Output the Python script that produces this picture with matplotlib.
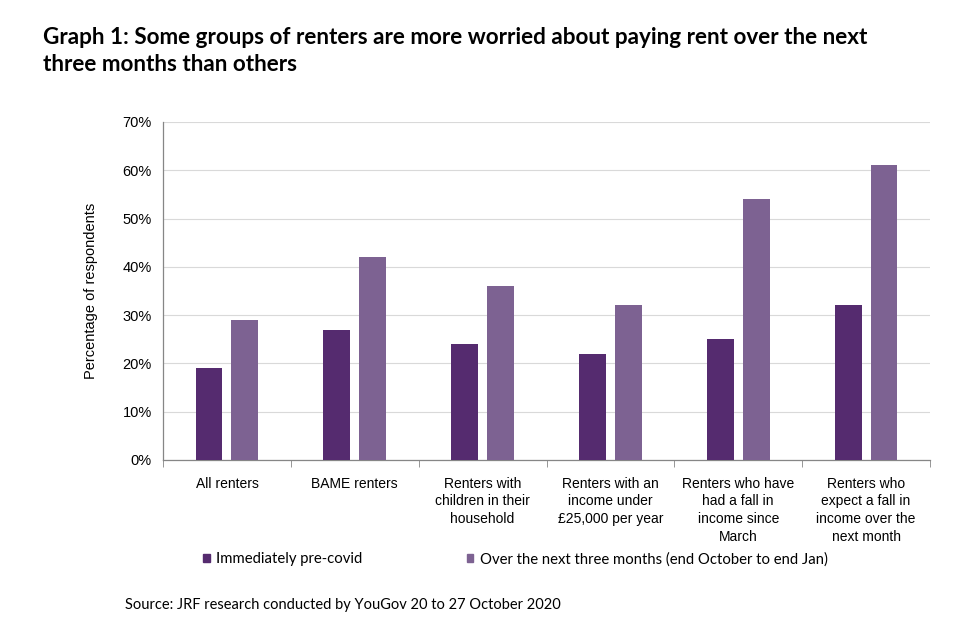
import matplotlib.pyplot as plt
from matplotlib.patches import Patch
from matplotlib.ticker import FuncFormatter
import numpy as np

categories = [
    "All renters",
    "BAME renters",
    "Renters with\nchildren in their\nhousehold",
    "Renters with an\nincome under\n£25,000 per year",
    "Renters who have\nhad a fall in\nincome since\nMarch",
    "Renters who\nexpect a fall in\nincome over the\nnext month",
]
pre_covid = [19, 27, 24, 22, 25, 32]
next_three_months = [29, 42, 36, 32, 54, 61]
series_names = [
    "Immediately pre-covid",
    "Over the next three months (end October to end Jan)",
]
colors = ["#552b6f", "#7d6292"]

plt.rcParams["font.family"] = ["Liberation Sans", "DejaVu Sans"]

fig = plt.figure(figsize=(9.67, 6.32), dpi=100)
ax = fig.add_axes([0.1686, 0.2722, 0.7931, 0.5348])

x = np.arange(len(categories))
width = 0.21
ax.bar(x - 0.14, pre_covid, width, color=colors[0], zorder=3)
ax.bar(x + 0.14, next_three_months, width, color=colors[1], zorder=3)

ax.set_xlim(-0.5, len(categories) - 0.5)
ax.set_ylim(0, 70)
ax.set_yticks(np.arange(0, 71, 10))
ax.yaxis.set_major_formatter(FuncFormatter(lambda v, p: f"{v:.0f}%"))
ax.grid(axis="y", color="#d9d9d9", linewidth=0.8, zorder=0)

ax.set_xticks(x)
ax.set_xticklabels(categories, fontsize=10, linespacing=1.35, va="top")
ax.tick_params(axis="x", length=0, pad=12)
ax.set_xticks(np.arange(-0.5, len(categories)), minor=True)
ax.tick_params(axis="x", which="minor", length=5, color="#868686", direction="out")
ax.tick_params(axis="y", length=0, labelsize=10.5, pad=8)

for side in ["top", "right"]:
    ax.spines[side].set_visible(False)
for side in ["left", "bottom"]:
    ax.spines[side].set_color("#868686")
    ax.spines[side].set_linewidth(0.9)

ax.set_ylabel("Percentage of respondents", fontsize=10.5, labelpad=18)

handles = [Patch(color=c) for c in colors]
fig.legend(
    handles,
    series_names,
    loc="center left",
    bbox_to_anchor=(0.196, 0.115),
    ncol=2,
    frameon=False,
    handlelength=0.45,
    handleheight=0.45,
    handletextpad=0.45,
    columnspacing=7.0,
    prop={"family": "Lato", "size": 10.7},
)

fig.text(
    0.044, 0.957,
    "Graph 1: Some groups of renters are more worried about paying rent over the next\nthree months than others",
    fontsize=16.2, fontweight="bold", family="Lato", va="top", linespacing=1.35,
)
fig.text(
    0.129, 0.043,
    "Source: JRF research conducted by YouGov 20 to 27 October 2020",
    fontsize=10.5, family="Lato", va="center",
)

fig.savefig("out.png", dpi=100)
